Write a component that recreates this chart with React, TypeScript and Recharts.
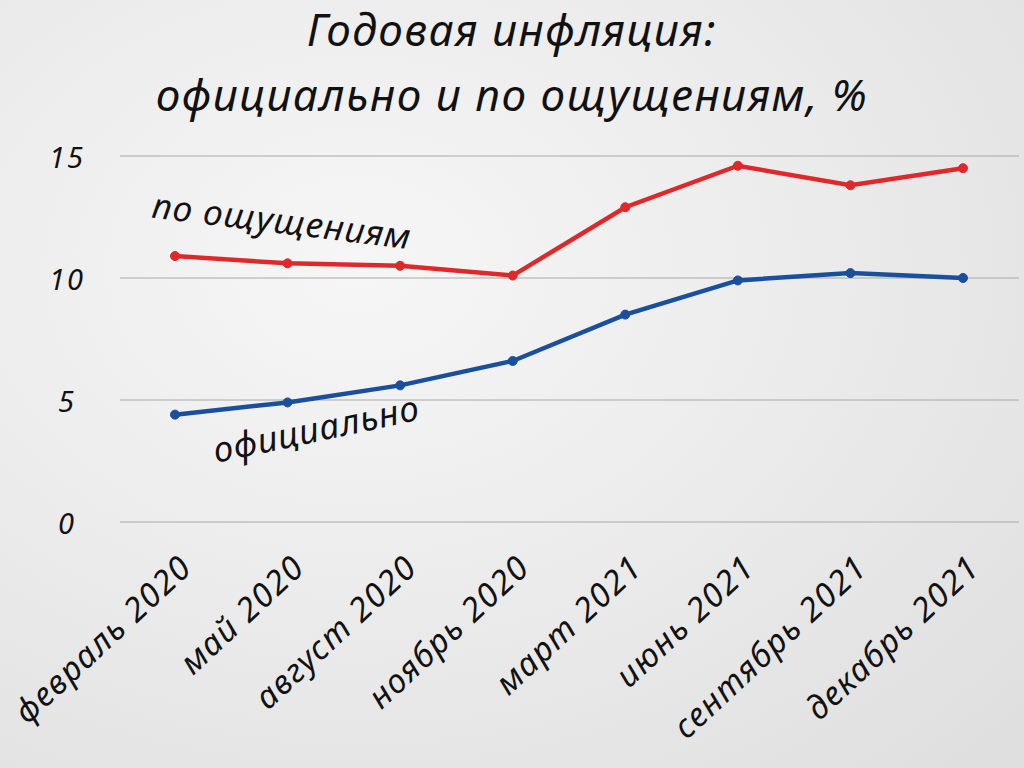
import React from 'react';
import { LineChart, Line, XAxis, YAxis, CartesianGrid } from 'recharts';

const categories = [
  'февраль 2020',
  'май 2020',
  'август 2020',
  'ноябрь 2020',
  'март 2021',
  'июнь 2021',
  'сентябрь 2021',
  'декабрь 2021',
];
const perceived = [10.9, 10.6, 10.5, 10.1, 12.9, 14.6, 13.8, 14.5];
const official = [4.4, 4.9, 5.6, 6.6, 8.5, 9.9, 10.2, 10.0];
const yTicks = [0, 5, 10, 15];

const data = categories.map((c, i) => ({ name: c, perceived: perceived[i], official: official[i] }));

const FONT = '"Noto Sans", "DejaVu Sans", sans-serif';

const XTick = (props: any) => {
  const { x, y, payload } = props;
  return (
    <text
      transform={`translate(${x + 19},${y + 40}) rotate(-43)`}
      textAnchor="end"
      fontFamily={FONT}
      fontStyle="italic"
      fontSize={33}
      letterSpacing={1.5}
      fill="#111"
    >
      {payload.value}
    </text>
  );
};

const YTick = (props: any) => {
  const { y, payload } = props;
  return (
    <text
      x={67}
      y={y}
      textAnchor="middle"
      dominantBaseline="central"
      fontFamily={FONT}
      fontStyle="italic"
      fontSize={29}
      letterSpacing={2}
      fill="#111"
    >
      {payload.value}
    </text>
  );
};

export default function App() {
  return (
    <div
      style={{
        position: 'absolute',
        left: 0,
        top: 0,
        width: 1024,
        height: 768,
        overflow: 'hidden',
        background:
          'radial-gradient(ellipse at 35% 35%, #f6f6f6 0%, #ececec 45%, #dedede 100%)',
        fontFamily: FONT,
      }}
    >
      <div
        style={{
          position: 'absolute',
          left: 0,
          top: -3,
          width: 1024,
          textAlign: 'center',
          fontSize: 44,
          fontStyle: 'italic',
          color: '#111',
          lineHeight: '65px',
          letterSpacing: 1.5,
        }}
      >
        <div>Годовая инфляция:</div>
        <div>официально и по ощущениям, %</div>
      </div>
      <LineChart
        width={1024}
        height={768}
        data={data}
        margin={{ top: 156, right: 5, bottom: 0, left: 0 }}
      >
        <CartesianGrid vertical={false} stroke="#a8a8a8" strokeWidth={1} />
        <XAxis
          dataKey="name"
          axisLine={false}
          tickLine={false}
          interval={0}
          height={246}
          padding={{ left: 55, right: 56 }}
          tick={<XTick />}
        />
        <YAxis
          domain={[0, 15]}
          ticks={yTicks}
          width={120}
          axisLine={false}
          tickLine={false}
          tick={<YTick />}
        />
        <Line
          type="linear"
          dataKey="perceived"
          stroke="#e0282b"
          strokeWidth={4.5}
          dot={{ r: 4.5, fill: '#e0282b', stroke: '#e0282b', strokeWidth: 1 }}
          isAnimationActive={false}
        />
        <Line
          type="linear"
          dataKey="official"
          stroke="#1a4f9e"
          strokeWidth={4.5}
          dot={{ r: 4.5, fill: '#1a4f9e', stroke: '#1a4f9e', strokeWidth: 1 }}
          isAnimationActive={false}
        />
      </LineChart>
      <div
        style={{
          position: 'absolute',
          left: 282,
          top: 220,
          transform: 'translate(-50%, -50%) rotate(7deg)',
          fontSize: 35,
          letterSpacing: 1,
          fontStyle: 'italic',
          color: '#111',
          whiteSpace: 'nowrap',
        }}
      >
        по ощущениям
      </div>
      <div
        style={{
          position: 'absolute',
          left: 316,
          top: 428,
          transform: 'translate(-50%, -50%) rotate(-12deg)',
          fontSize: 35,
          letterSpacing: 1,
          fontStyle: 'italic',
          color: '#111',
          whiteSpace: 'nowrap',
        }}
      >
        официально
      </div>
    </div>
  );
}
